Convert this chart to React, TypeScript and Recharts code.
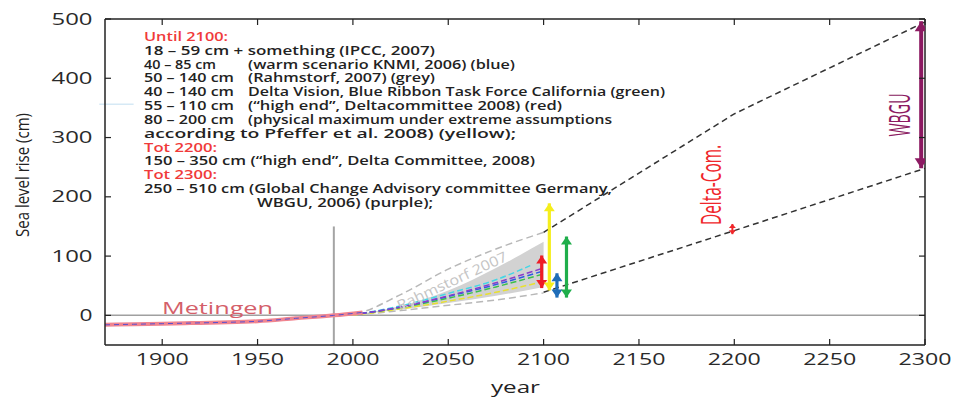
import React from 'react';
import { ComposedChart, Line, Area, XAxis, YAxis, ReferenceLine } from 'recharts';

const CHART_W = 957;
const CHART_H = 401;

// ---- axes ----
const xTicks = [1900, 1950, 2000, 2050, 2100, 2150, 2200, 2250, 2300];
const yTicks = [0, 100, 200, 300, 400, 500];

// ---- observations (Metingen) ----
const metYears = [1870, 1885, 1900, 1915, 1930, 1950, 1970, 1990, 2005];
const metValues = [-16, -15, -14, -13, -12, -10, -5, 0, 5];

// ---- projections to 2100 ----
const scenYears = [1990, 2000, 2025, 2050, 2075, 2100];
const rahmLow = [0, 2, 10, 21, 33, 48];
const rahmHigh = [0, 2, 16, 42, 80, 124];
const rahmDashLow = [0, 1, 8, 17, 26, 38];
const rahmDashHigh = [0, 2, 35, 78, 112, 140];
const cyanYears = [1990, 2000, 2025, 2050, 2075, 2093];
const cyanValues = [0, 2, 16, 37, 60, 84];
const purpleValues = [0, 2, 14, 33, 55, 80];
const blueValues = [0, 2, 14, 32, 52, 75];
const greenValues = [0, 2, 13, 29, 48, 70];
const yellowValues = [0, 1, 11, 24, 39, 57];

// ---- long-term envelopes ----
const envYears = [2100, 2200, 2300];
const envHigh = [140, 340, 495];
const envLow = [39, 143, 248];

// ---- range arrows ----
const arrowYears = [2099, 2103, 2107, 2112, 2199, 2298];
const arrowLow = [46, 42, 30, 30, 137, 248];
const arrowHigh = [101, 189, 71, 133, 154, 496];

// styles (kept apart from the data)
const arrowColors = ['#ee1c25', '#f5ee1c', '#1f6db8', '#1fae4b', '#f0262a', '#8c1a62'];
const arrowShaft = [3.2, 3.2, 3.2, 3.2, 2, 4];
const arrowHeadW = [11, 11, 11, 11, 7, 13];
const arrowHeadH = [8, 8, 8, 8, 4, 10];

const toSeries = (years: number[], values: number[]) =>
  years.map((year, i) => ({ year, value: values[i] }));

const bandData = scenYears.map((year, i) => ({ year, range: [rahmLow[i], rahmHigh[i]] }));

const arrowData = arrowYears.map((year, i) => [
  { year, value: arrowLow[i], dir: 'down' },
  { year, value: arrowHigh[i], dir: 'up' },
]);

const makeHead = (w: number, h: number, color: string) => (props: any) => {
  const { cx, cy, payload, index } = props;
  if (cx == null || cy == null) return <g key={`h${index}`} />;
  const up = payload.dir === 'up';
  const base = up ? cy + h : cy - h;
  return (
    <polygon
      key={`h${index}`}
      points={`${cx},${cy} ${cx - w / 2},${base} ${cx + w / 2},${base}`}
      fill={color}
    />
  );
};

const TICK_FONT = '"Open Sans", "DejaVu Sans", sans-serif';

const XTick = (props: any) => {
  const { x, y, payload } = props;
  const w = 53;
  return (
    <text
      x={x - w / 2}
      y={y + 20}
      fontFamily={TICK_FONT}
      fontWeight={500}
      fontSize={15.5}
      fill="#2a2a2a"
      textLength={w}
      lengthAdjust="spacingAndGlyphs"
    >
      {payload.value}
    </text>
  );
};

const YTick = (props: any) => {
  const { y, payload } = props;
  const s = String(payload.value);
  const w = s.length === 1 ? 13 : 41;
  return (
    <text
      x={92.5 - w}
      y={y + 5.5}
      fontFamily={TICK_FONT}
      fontWeight={500}
      fontSize={15.5}
      fill="#2a2a2a"
      textLength={w}
      lengthAdjust="spacingAndGlyphs"
    >
      {s}
    </text>
  );
};

const NoTick = () => <g />;

const RED = '#f03a3a';
const TXT = '#222';

type Piece = { t: string; x: number; w?: number; red?: boolean };
const noteRows: Piece[][] = [
  [{ t: 'Until 2100:', x: 144, w: 84, red: true }],
  [{ t: '18 – 59 cm +  something (IPCC, 2007)', x: 144, w: 291 }],
  [{ t: '40 – 85 cm', x: 144, w: 72 }, { t: '(warm scenario KNMI, 2006) (blue)', x: 248, w: 267 }],
  [{ t: '50 – 140 cm', x: 144, w: 90 }, { t: '(Rahmstorf, 2007) (grey)', x: 248, w: 187 }],
  [{ t: '40 – 140 cm', x: 144, w: 90 }, { t: 'Delta Vision, Blue Ribbon Task Force California (green)', x: 248, w: 417 }],
  [{ t: '55 – 110 cm', x: 144, w: 90 }, { t: '(“high end”, Deltacommittee 2008) (red)', x: 248, w: 314 }],
  [{ t: '80 – 200 cm', x: 144, w: 90 }, { t: '(physical maximum  under extreme assumptions', x: 248, w: 364 }],
  [{ t: 'according to Pfeffer et al. 2008) (yellow);', x: 144, w: 372 }],
  [{ t: 'Tot 2200:', x: 144, w: 73, red: true }],
  [{ t: '150 – 350 cm (“high end”, Delta Committee, 2008)', x: 144, w: 391 }],
  [{ t: 'Tot 2300:', x: 144, w: 73, red: true }],
  [{ t: '250 – 510 cm (Global Change Advisory committee Germany,', x: 144, w: 468 }],
  [{ t: 'WBGU, 2006) (purple);', x: 257, w: 176 }],
];

const Overlay = () => (
  <svg
    width={CHART_W}
    height={CHART_H}
    style={{ position: 'absolute', left: 0, top: 0, pointerEvents: 'none' }}
  >
    {noteRows.map((row, r) =>
      row.map((p, k) => (
        <text
          key={`${r}-${k}`}
          x={p.x}
          y={41 + r * 13.83}
          fontFamily={TICK_FONT}
          fontWeight={600}
          fontSize={12}
          fill={p.red ? RED : TXT}
          textLength={p.w}
          lengthAdjust={p.w ? 'spacingAndGlyphs' : undefined}
        >
          {p.t}
        </text>
      ))
    )}
    <text
      transform="translate(22,175) rotate(-90)"
      x={-62}
      y={0}
      dy="0.35em"
      fontFamily={TICK_FONT}
      fontSize={19}
      fill="#222"
      textLength={124}
      lengthAdjust="spacingAndGlyphs"
    >
      Sea level rise (cm)
    </text>
    <text
      x={491}
      y={393}
      fontFamily={TICK_FONT}
      fontWeight={500}
      fontSize={16}
      fill="#222"
      textLength={49}
      lengthAdjust="spacingAndGlyphs"
    >
      year
    </text>
    <text
      x={162}
      y={314}
      fontFamily={TICK_FONT}
      fontWeight={500}
      fontSize={16.5}
      fill="#d4606a"
      textLength={111}
      lengthAdjust="spacingAndGlyphs"
    >
      Metingen
    </text>
    <text
      transform="translate(452,281) rotate(-25)"
      x={-60}
      y={0}
      dy="0.35em"
      fontFamily={TICK_FONT}
      fontSize={14}
      fill="#c4c4c4"
      textLength={120}
      lengthAdjust="spacingAndGlyphs"
    >
      Rahmstorf 2007
    </text>
    <text
      transform="translate(721,185) rotate(-90)"
      x={-40}
      y={0}
      fontFamily={TICK_FONT}
      fontSize={28}
      fill="#f0262a"
      textLength={80}
      lengthAdjust="spacingAndGlyphs"
    >
      Delta-Com.
    </text>
    <text
      transform="translate(910,115) rotate(-90)"
      x={-21.5}
      y={0}
      fontFamily={TICK_FONT}
      fontSize={30}
      fill="#8c1a62"
      textLength={43}
      lengthAdjust="spacingAndGlyphs"
    >
      WBGU
    </text>
  </svg>
);

export default function App() {
  const axisColor = '#222';
  return (
    <div style={{ position: 'absolute', left: 0, top: 0, width: CHART_W, height: CHART_H, background: '#fff' }}>
      <ComposedChart
        width={CHART_W}
        height={CHART_H}
        margin={{ top: 18, right: 31, bottom: 0, left: 0 }}
      >
        <XAxis
          dataKey="year"
          type="number"
          domain={[1870, 2300]}
          ticks={xTicks}
          allowDataOverflow
          height={56}
          tickSize={-6}
          tickMargin={6}
          tick={<XTick />}
          axisLine={{ stroke: axisColor, strokeWidth: 1.5 }}
          tickLine={{ stroke: axisColor, strokeWidth: 1.2 }}
        />
        <XAxis
          xAxisId="top"
          orientation="top"
          dataKey="year"
          type="number"
          domain={[1870, 2300]}
          ticks={xTicks}
          allowDataOverflow
          height={1}
          tickSize={-6}
          tick={<NoTick />}
          axisLine={{ stroke: axisColor, strokeWidth: 1.5 }}
          tickLine={{ stroke: axisColor, strokeWidth: 1.2 }}
        />
        <YAxis
          yAxisId="left"
          type="number"
          domain={[-50, 500]}
          ticks={yTicks}
          allowDataOverflow
          width={105}
          tickSize={-6}
          tickMargin={6}
          tick={<YTick />}
          axisLine={{ stroke: axisColor, strokeWidth: 1.5 }}
          tickLine={{ stroke: axisColor, strokeWidth: 1.2 }}
        />
        <YAxis
          yAxisId="right"
          orientation="right"
          type="number"
          domain={[-50, 500]}
          ticks={yTicks}
          allowDataOverflow
          width={1}
          tickSize={-6}
          tick={<NoTick />}
          axisLine={{ stroke: axisColor, strokeWidth: 1.5 }}
          tickLine={{ stroke: axisColor, strokeWidth: 1.2 }}
        />

        <ReferenceLine yAxisId="left" y={0} stroke="#a0a0a0" strokeWidth={1.5} />
        <ReferenceLine
          yAxisId="left"
          segment={[{ x: 1990, y: -50 }, { x: 1990, y: 150 }]}
          stroke="#a4a4a4"
          strokeWidth={2}
        />
        <ReferenceLine
          yAxisId="left"
          ifOverflow="visible"
          segment={[{ x: 1867, y: 356 }, { x: 1885, y: 356 }]}
          stroke="#d6e9f5"
          strokeWidth={1.5}
        />

        <Area
          yAxisId="left"
          data={bandData}
          dataKey="range"
          type="monotone"
          stroke="none"
          fill="#d2d2d2"
          fillOpacity={1}
          isAnimationActive={false}
        />
        <Line yAxisId="left" data={toSeries(scenYears, rahmDashHigh)} dataKey="value" type="monotone" stroke="#b8b8b8" strokeWidth={1.5} strokeDasharray="7 4" dot={false} activeDot={false} isAnimationActive={false} />
        <Line yAxisId="left" data={toSeries(scenYears, rahmDashLow)} dataKey="value" type="monotone" stroke="#b8b8b8" strokeWidth={1.5} strokeDasharray="7 4" dot={false} activeDot={false} isAnimationActive={false} />

        <Line yAxisId="left" data={toSeries(scenYears, yellowValues)} dataKey="value" type="monotone" stroke="#e8e030" strokeWidth={1.5} strokeDasharray="6 3" dot={false} activeDot={false} isAnimationActive={false} />
        <Line yAxisId="left" data={toSeries(scenYears, greenValues)} dataKey="value" type="monotone" stroke="#3cbf4c" strokeWidth={1.5} strokeDasharray="6 3" dot={false} activeDot={false} isAnimationActive={false} />
        <Line yAxisId="left" data={toSeries(cyanYears, cyanValues)} dataKey="value" type="monotone" stroke="#45d6e6" strokeWidth={1.5} strokeDasharray="6 3" dot={false} activeDot={false} isAnimationActive={false} />
        <Line yAxisId="left" data={toSeries(scenYears, blueValues)} dataKey="value" type="monotone" stroke="#2f5be0" strokeWidth={1.5} strokeDasharray="6 3" dot={false} activeDot={false} isAnimationActive={false} />
        <Line yAxisId="left" data={toSeries(scenYears, purpleValues)} dataKey="value" type="monotone" stroke="#8a3cc8" strokeWidth={1.5} strokeDasharray="6 3" dot={false} activeDot={false} isAnimationActive={false} />

        <Line yAxisId="left" data={toSeries(envYears, envHigh)} dataKey="value" type="linear" stroke="#333" strokeWidth={1.5} strokeDasharray="6 4" dot={false} activeDot={false} isAnimationActive={false} />
        <Line yAxisId="left" data={toSeries(envYears, envLow)} dataKey="value" type="linear" stroke="#333" strokeWidth={1.5} strokeDasharray="6 4" dot={false} activeDot={false} isAnimationActive={false} />

        <Line yAxisId="left" data={toSeries(metYears, metValues)} dataKey="value" type="monotone" stroke="#f08590" strokeWidth={4} dot={false} activeDot={false} isAnimationActive={false} />
        <Line yAxisId="left" data={toSeries(metYears, metValues)} dataKey="value" type="monotone" stroke="#5a4fd0" strokeWidth={1} strokeDasharray="5 4" dot={false} activeDot={false} isAnimationActive={false} />

        {arrowData.map((d, i) => (
          <Line
            key={`arrow${i}`}
            yAxisId="left"
            data={d}
            dataKey="value"
            type="linear"
            stroke={arrowColors[i]}
            strokeWidth={arrowShaft[i]}
            dot={makeHead(arrowHeadW[i], arrowHeadH[i], arrowColors[i])}
            activeDot={false}
            isAnimationActive={false}
          />
        ))}
      </ComposedChart>
      <Overlay />
    </div>
  );
}
